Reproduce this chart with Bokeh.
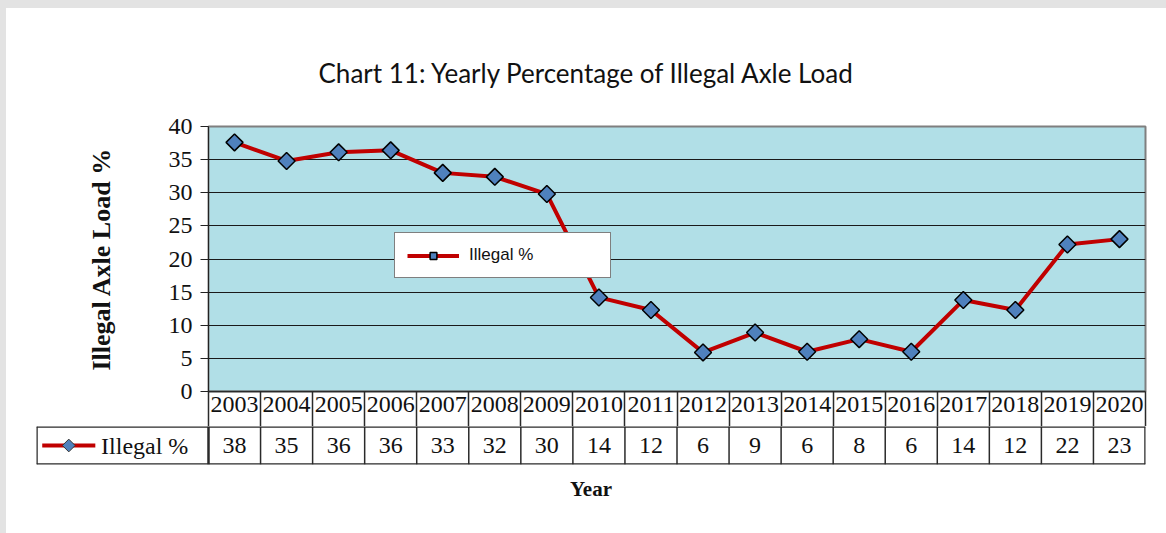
import math
from bokeh.plotting import figure
from bokeh.models import (Range1d, Legend, LegendItem, ColumnDataSource,
                          FixedTicker, Title)
from bokeh.layouts import column
from bokeh.embed import file_html
from bokeh.resources import INLINE
from bokeh.core.properties import value

# ---------------- data ----------------
years = ["2003", "2004", "2005", "2006", "2007", "2008", "2009", "2010", "2011",
         "2012", "2013", "2014", "2015", "2016", "2017", "2018", "2019", "2020"]
illegal_pct = [37.6, 34.8, 36.1, 36.4, 33.0, 32.4, 29.8, 14.2, 12.3,
               5.9, 8.9, 6.0, 7.9, 6.0, 13.8, 12.3, 22.2, 23.0]
series_name = "Illegal %"
y_ticks = [0, 5, 10, 15, 20, 25, 30, 35, 40]
chart_title = "Chart 11: Yearly Percentage of  Illegal Axle Load"
y_title = "Illegal Axle Load %"
x_title = "Year"

# ---------------- styles ----------------
SERIF = "Liberation Serif"
TITLE_FONT = "Lato"
LINE_RED = "#c00000"
MARK_BLUE = "#4f81bd"
PLOT_BG = "#b1dfe7"
PAGE_BG = "#e3e3e3"
GRID_C = "#2a2a2a"
TXT = "#111111"

n = len(years)
centers = [i + 0.5 for i in range(n)]     # category centres on a numeric scale
bounds = list(range(n + 1))               # category boundaries
src = ColumnDataSource(dict(x=centers, pct=illegal_pct))

# ---------------- chart (with year row as its x axis) ----------------
pA = figure(width=1160, height=418, x_range=Range1d(0, n), y_range=Range1d(0, 40),
            output_backend="svg", toolbar_location=None,
            min_border_left=202, min_border_right=21, min_border_top=118, min_border_bottom=35)
pA.margin = (8, 0, 0, 6)
try:
    pA.frame_align = False
except Exception:
    pass
pA.title = Title(text=chart_title, align="left", offset=110,
                 text_font=TITLE_FONT, text_font_size="26px", text_font_style="normal",
                 text_color=TXT)
try:
    pA.title.standoff = 75
except Exception:
    pass
pA.background_fill_color = PLOT_BG
pA.border_fill_color = "white"
pA.outline_line_color = "#7f7f7f"
pA.outline_line_width = 2

pA.xgrid.grid_line_color = None
pA.ygrid.ticker = FixedTicker(ticks=y_ticks)
pA.ygrid.grid_line_color = "#1a1a1a"
pA.ygrid.grid_line_width = 1

xa = pA.xaxis[0]
xa.ticker = FixedTicker(ticks=centers, minor_ticks=bounds)
xa.major_label_overrides = {c: y for c, y in zip(centers, years)}
xa.major_tick_out = 0
xa.major_tick_in = 0
xa.major_tick_line_color = None
xa.minor_tick_out = 35
xa.minor_tick_in = 0
xa.minor_tick_line_color = GRID_C
xa.minor_tick_line_width = 1.5
xa.axis_line_color = GRID_C
xa.axis_line_width = 1.5
xa.major_label_text_font = SERIF
xa.major_label_text_font_size = "24px"
xa.major_label_text_color = TXT
xa.major_label_standoff = -30

ya = pA.yaxis[0]
ya.ticker = FixedTicker(ticks=y_ticks)
ya.major_tick_out = 8
ya.major_tick_in = 0
ya.minor_tick_line_color = None
ya.axis_line_color = "#222222"
ya.major_tick_line_color = "#222222"
ya.major_label_text_font = SERIF
ya.major_label_text_font_size = "24px"
ya.major_label_text_color = TXT
ya.major_label_standoff = 8
ya.axis_label = y_title
ya.axis_label_text_font = SERIF
ya.axis_label_text_font_size = "26px"
ya.axis_label_text_font_style = "bold"
ya.axis_label_text_color = TXT
ya.axis_label_standoff = 50

line_r = pA.line(x="x", y="pct", source=src, line_color=LINE_RED, line_width=4)
scat_r = pA.scatter(x="x", y="pct", source=src, marker="square", angle=math.pi / 4,
                    size=12, fill_color=MARK_BLUE, line_color="black", line_width=1.5)

legend = Legend(items=[LegendItem(label=series_name, renderers=[line_r, scat_r])],
                location=(186, 113), padding=12, margin=0, spacing=0,
                glyph_width=52, glyph_height=17, label_standoff=10,
                label_width=129, label_height=17,
                label_text_font="Liberation Sans", label_text_font_size="17px",
                label_text_color=TXT,
                border_line_color="black", border_line_width=1,
                background_fill_color="white", background_fill_alpha=1.0)
pA.add_layout(legend)

# ---------------- value row of the data table ----------------
cell_w = (1145 - 208) / n          # px per category
KEY_W = (208 - 36) / cell_w         # key column width in category units

pB = figure(width=1160, height=107, x_range=Range1d(-KEY_W, n), y_range=Range1d(0, 1),
            output_backend="svg", toolbar_location=None,
            min_border_left=30, min_border_right=21, min_border_top=0, min_border_bottom=69)
pB.margin = (0, 0, 0, 6)
try:
    pB.frame_align = False
except Exception:
    pass
pB.background_fill_color = "white"
pB.border_fill_color = "white"
pB.outline_line_color = None
pB.grid.grid_line_color = None
pB.yaxis.visible = False
xb = pB.xaxis[0]
xb.ticker = FixedTicker(ticks=[])
xb.axis_line_color = None
xb.major_tick_out = 0
xb.major_tick_in = 0
xb.minor_tick_line_color = None
xb.axis_label = x_title
xb.axis_label_text_font = SERIF
xb.axis_label_text_font_size = "21px"
xb.axis_label_text_font_style = "bold"
xb.axis_label_text_color = TXT
xb.axis_label_standoff = 12

pB.segment(x0=bounds[1:-1], y0=[0] * (n - 1), x1=bounds[1:-1], y1=[1] * (n - 1),
           line_color=GRID_C, line_width=1.5)
pB.segment(x0=[-KEY_W, 0, n, -KEY_W, -KEY_W], y0=[0, 0, 0, 0, 1],
           x1=[-KEY_W, 0, n, n, n], y1=[1, 1, 1, 0, 1],
           line_color=GRID_C, line_width=2.5)

pB.text(x=centers, y=[0.5] * n, text=[f"{v:.0f}" for v in illegal_pct],
        text_align="center", text_baseline="middle",
        text_font=value(SERIF), text_font_size="24px", text_color=TXT)

# key cell: legend-style swatch + series name
pB.line(x=[-KEY_W + 0.11, -KEY_W + 1.13], y=[0.5, 0.5], line_color=LINE_RED, line_width=4)
pB.scatter(x=[-KEY_W + 0.62], y=[0.5], marker="square", angle=math.pi / 4, size=9,
           fill_color=MARK_BLUE, line_color="#333333", line_width=1)
pB.text(x=[-KEY_W + 1.24], y=[0.5], text=[series_name], text_align="left",
        text_baseline="middle", text_font=value(SERIF), text_font_size="24px",
        text_color=TXT)

layout = column(pA, pB, styles={"background-color": "white",
                                "box-shadow": f"inset 6px 8px 0 0 {PAGE_BG}"})

with open("out.html", "w") as f:
    f.write(file_html(layout, INLINE))
